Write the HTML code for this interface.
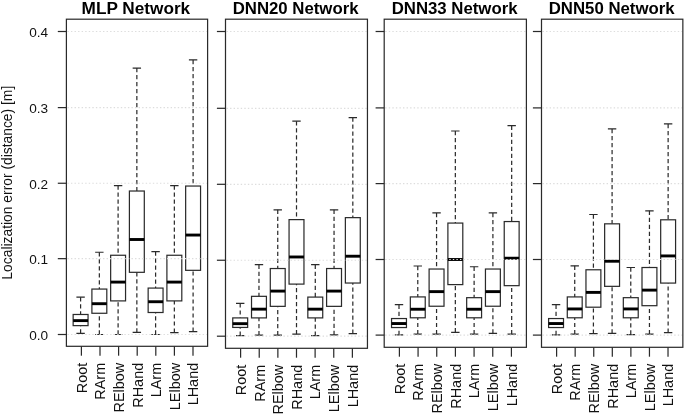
<!DOCTYPE html>
<html><head><meta charset="utf-8"><title>Localization error boxplots</title>
<style>html,body{margin:0;padding:0;background:#fff}body{width:685px;height:415px;overflow:hidden}</style></head>
<body>
<svg width="685" height="415" viewBox="0 0 685 415" style="display:block;font-family:'Liberation Sans',Arial,sans-serif">
<rect width="685" height="415" fill="#fff"/>
<path d="M80.60 297.18V314.48M80.60 333.36V325.63" stroke="#2a2a2a" stroke-width="1.22" stroke-dasharray="4.2 2.8" fill="none"/>
<path d="M76.40 297.18H84.80M76.40 333.36H84.80" stroke="#2a2a2a" stroke-width="1.22" fill="none"/>
<rect x="73.15" y="314.48" width="14.9" height="11.15" stroke="#2a2a2a" stroke-width="1.22" fill="#fff"/>
<path d="M73.15 320.62H88.05" stroke="#000" stroke-width="2.9" fill="none"/>
<path d="M81.40 346.3V355.70" stroke="#2a2a2a" stroke-width="1.22" fill="none"/>
<text transform="translate(86.70 362.80) rotate(-90)" text-anchor="end" font-size="14.45" fill="#111">Root</text>
<path d="M99.35 252.24V289.07M99.35 334.50V313.26" stroke="#2a2a2a" stroke-width="1.22" stroke-dasharray="4.2 2.8" fill="none"/>
<path d="M95.15 252.24H103.55M95.15 334.50H103.55" stroke="#2a2a2a" stroke-width="1.22" fill="none"/>
<rect x="91.90" y="289.07" width="14.9" height="24.20" stroke="#2a2a2a" stroke-width="1.22" fill="#fff"/>
<path d="M91.90 303.70H106.80" stroke="#000" stroke-width="2.9" fill="none"/>
<path d="M100.00 346.3V355.70" stroke="#2a2a2a" stroke-width="1.22" fill="none"/>
<text transform="translate(105.30 362.80) rotate(-90)" text-anchor="end" font-size="14.45" fill="#111">RArm</text>
<path d="M118.10 185.59V255.26M118.10 334.50V300.90" stroke="#2a2a2a" stroke-width="1.22" stroke-dasharray="4.2 2.8" fill="none"/>
<path d="M113.90 185.59H122.30M113.90 334.50H122.30" stroke="#2a2a2a" stroke-width="1.22" fill="none"/>
<rect x="110.65" y="255.26" width="14.9" height="45.64" stroke="#2a2a2a" stroke-width="1.22" fill="#fff"/>
<path d="M110.65 282.09H125.55" stroke="#000" stroke-width="2.9" fill="none"/>
<path d="M118.60 346.3V355.70" stroke="#2a2a2a" stroke-width="1.22" fill="none"/>
<text transform="translate(123.90 362.80) rotate(-90)" text-anchor="end" font-size="14.45" fill="#111">RElbow</text>
<path d="M136.85 68.03V191.02M136.85 332.38V272.30" stroke="#2a2a2a" stroke-width="1.22" stroke-dasharray="4.2 2.8" fill="none"/>
<path d="M132.65 68.03H141.05M132.65 332.38H141.05" stroke="#2a2a2a" stroke-width="1.22" fill="none"/>
<rect x="129.40" y="191.02" width="14.9" height="81.29" stroke="#2a2a2a" stroke-width="1.22" fill="#fff"/>
<path d="M129.40 239.50H144.30" stroke="#000" stroke-width="2.9" fill="none"/>
<path d="M137.20 346.3V355.70" stroke="#2a2a2a" stroke-width="1.22" fill="none"/>
<text transform="translate(142.50 362.80) rotate(-90)" text-anchor="end" font-size="14.45" fill="#111">RHand</text>
<path d="M155.60 251.56V288.08M155.60 334.50V312.50" stroke="#2a2a2a" stroke-width="1.22" stroke-dasharray="4.2 2.8" fill="none"/>
<path d="M151.40 251.56H159.80M151.40 334.50H159.80" stroke="#2a2a2a" stroke-width="1.22" fill="none"/>
<rect x="148.15" y="288.08" width="14.9" height="24.42" stroke="#2a2a2a" stroke-width="1.22" fill="#fff"/>
<path d="M148.15 301.73H163.05" stroke="#000" stroke-width="2.9" fill="none"/>
<path d="M155.80 346.3V355.70" stroke="#2a2a2a" stroke-width="1.22" fill="none"/>
<text transform="translate(161.10 362.80) rotate(-90)" text-anchor="end" font-size="14.45" fill="#111">LArm</text>
<path d="M174.35 185.59V255.26M174.35 332.60V300.90" stroke="#2a2a2a" stroke-width="1.22" stroke-dasharray="4.2 2.8" fill="none"/>
<path d="M170.15 185.59H178.55M170.15 332.60H178.55" stroke="#2a2a2a" stroke-width="1.22" fill="none"/>
<rect x="166.90" y="255.26" width="14.9" height="45.64" stroke="#2a2a2a" stroke-width="1.22" fill="#fff"/>
<path d="M166.90 282.09H181.80" stroke="#000" stroke-width="2.9" fill="none"/>
<path d="M174.40 346.3V355.70" stroke="#2a2a2a" stroke-width="1.22" fill="none"/>
<text transform="translate(179.70 362.80) rotate(-90)" text-anchor="end" font-size="14.45" fill="#111">LElbow</text>
<path d="M193.10 59.96V186.04M193.10 331.62V270.33" stroke="#2a2a2a" stroke-width="1.22" stroke-dasharray="4.2 2.8" fill="none"/>
<path d="M188.90 59.96H197.30M188.90 331.62H197.30" stroke="#2a2a2a" stroke-width="1.22" fill="none"/>
<rect x="185.65" y="186.04" width="14.9" height="84.29" stroke="#2a2a2a" stroke-width="1.22" fill="#fff"/>
<path d="M185.65 235.05H200.55" stroke="#000" stroke-width="2.9" fill="none"/>
<path d="M193.00 346.3V355.70" stroke="#2a2a2a" stroke-width="1.22" fill="none"/>
<text transform="translate(198.30 362.80) rotate(-90)" text-anchor="end" font-size="14.45" fill="#111">LHand</text>
<path d="M67.40 334.50H207.10" stroke="#dddddd" stroke-width="1.2" stroke-dasharray="1.4 2.16" fill="none"/>
<path d="M57.80 334.50H66.40" stroke="#2a2a2a" stroke-width="1.22" fill="none"/>
<text x="48.1" y="340.20" text-anchor="end" font-size="13.6" fill="#111">0.0</text>
<path d="M67.40 258.65H207.10" stroke="#dddddd" stroke-width="1.2" stroke-dasharray="1.4 2.16" fill="none"/>
<path d="M57.80 258.65H66.40" stroke="#2a2a2a" stroke-width="1.22" fill="none"/>
<text x="48.1" y="264.35" text-anchor="end" font-size="13.6" fill="#111">0.1</text>
<path d="M67.40 183.25H207.10" stroke="#dddddd" stroke-width="1.2" stroke-dasharray="1.4 2.16" fill="none"/>
<path d="M57.80 183.25H66.40" stroke="#2a2a2a" stroke-width="1.22" fill="none"/>
<text x="48.1" y="188.95" text-anchor="end" font-size="13.6" fill="#111">0.2</text>
<path d="M67.40 107.60H207.10" stroke="#dddddd" stroke-width="1.2" stroke-dasharray="1.4 2.16" fill="none"/>
<path d="M57.80 107.60H66.40" stroke="#2a2a2a" stroke-width="1.22" fill="none"/>
<text x="48.1" y="113.30" text-anchor="end" font-size="13.6" fill="#111">0.3</text>
<path d="M67.40 31.50H207.10" stroke="#dddddd" stroke-width="1.2" stroke-dasharray="1.4 2.16" fill="none"/>
<path d="M57.80 31.50H66.40" stroke="#2a2a2a" stroke-width="1.22" fill="none"/>
<text x="48.1" y="37.20" text-anchor="end" font-size="13.6" fill="#111">0.4</text>
<rect x="66.40" y="19.2" width="141.20" height="327.10" stroke="#2a2a2a" stroke-width="1.22" fill="none"/>
<text x="135.90" y="13.6" text-anchor="middle" font-size="17.2" font-weight="bold" fill="#000">MLP Network</text>
<path d="M240.20 303.39V317.90M240.20 335.67V327.43" stroke="#2a2a2a" stroke-width="1.22" stroke-dasharray="4.2 2.8" fill="none"/>
<path d="M236.00 303.39H244.40M236.00 335.67H244.40" stroke="#2a2a2a" stroke-width="1.22" fill="none"/>
<rect x="232.75" y="317.90" width="14.9" height="9.53" stroke="#2a2a2a" stroke-width="1.22" fill="#fff"/>
<path d="M232.75 323.67H247.65" stroke="#000" stroke-width="2.9" fill="none"/>
<path d="M240.60 348.3V357.70" stroke="#2a2a2a" stroke-width="1.22" fill="none"/>
<text transform="translate(245.90 364.80) rotate(-90)" text-anchor="end" font-size="14.45" fill="#111">Root</text>
<path d="M258.97 264.73V296.33M258.97 335.21V317.90" stroke="#2a2a2a" stroke-width="1.22" stroke-dasharray="4.2 2.8" fill="none"/>
<path d="M254.77 264.73H263.17M254.77 335.21H263.17" stroke="#2a2a2a" stroke-width="1.22" fill="none"/>
<rect x="251.52" y="296.33" width="14.9" height="21.57" stroke="#2a2a2a" stroke-width="1.22" fill="#fff"/>
<path d="M251.52 309.16H266.42" stroke="#000" stroke-width="2.9" fill="none"/>
<path d="M259.23 348.3V357.70" stroke="#2a2a2a" stroke-width="1.22" fill="none"/>
<text transform="translate(264.53 364.80) rotate(-90)" text-anchor="end" font-size="14.45" fill="#111">RArm</text>
<path d="M277.74 209.82V268.53M277.74 335.21V306.35" stroke="#2a2a2a" stroke-width="1.22" stroke-dasharray="4.2 2.8" fill="none"/>
<path d="M273.54 209.82H281.94M273.54 335.21H281.94" stroke="#2a2a2a" stroke-width="1.22" fill="none"/>
<rect x="270.29" y="268.53" width="14.9" height="37.82" stroke="#2a2a2a" stroke-width="1.22" fill="#fff"/>
<path d="M270.29 291.09H285.19" stroke="#000" stroke-width="2.9" fill="none"/>
<path d="M277.86 348.3V357.70" stroke="#2a2a2a" stroke-width="1.22" fill="none"/>
<text transform="translate(283.16 364.80) rotate(-90)" text-anchor="end" font-size="14.45" fill="#111">RElbow</text>
<path d="M296.51 121.22V219.62M296.51 334.23V284.10" stroke="#2a2a2a" stroke-width="1.22" stroke-dasharray="4.2 2.8" fill="none"/>
<path d="M292.31 121.22H300.71M292.31 334.23H300.71" stroke="#2a2a2a" stroke-width="1.22" fill="none"/>
<rect x="289.06" y="219.62" width="14.9" height="64.48" stroke="#2a2a2a" stroke-width="1.22" fill="#fff"/>
<path d="M289.06 256.98H303.96" stroke="#000" stroke-width="2.9" fill="none"/>
<path d="M296.49 348.3V357.70" stroke="#2a2a2a" stroke-width="1.22" fill="none"/>
<text transform="translate(301.79 364.80) rotate(-90)" text-anchor="end" font-size="14.45" fill="#111">RHand</text>
<path d="M315.28 264.73V297.09M315.28 335.67V317.90" stroke="#2a2a2a" stroke-width="1.22" stroke-dasharray="4.2 2.8" fill="none"/>
<path d="M311.08 264.73H319.48M311.08 335.67H319.48" stroke="#2a2a2a" stroke-width="1.22" fill="none"/>
<rect x="307.83" y="297.09" width="14.9" height="20.81" stroke="#2a2a2a" stroke-width="1.22" fill="#fff"/>
<path d="M307.83 309.16H322.73" stroke="#000" stroke-width="2.9" fill="none"/>
<path d="M315.12 348.3V357.70" stroke="#2a2a2a" stroke-width="1.22" fill="none"/>
<text transform="translate(320.42 364.80) rotate(-90)" text-anchor="end" font-size="14.45" fill="#111">LArm</text>
<path d="M334.05 209.82V268.53M334.05 334.91V306.35" stroke="#2a2a2a" stroke-width="1.22" stroke-dasharray="4.2 2.8" fill="none"/>
<path d="M329.85 209.82H338.25M329.85 334.91H338.25" stroke="#2a2a2a" stroke-width="1.22" fill="none"/>
<rect x="326.60" y="268.53" width="14.9" height="37.82" stroke="#2a2a2a" stroke-width="1.22" fill="#fff"/>
<path d="M326.60 291.09H341.50" stroke="#000" stroke-width="2.9" fill="none"/>
<path d="M333.75 348.3V357.70" stroke="#2a2a2a" stroke-width="1.22" fill="none"/>
<text transform="translate(339.05 364.80) rotate(-90)" text-anchor="end" font-size="14.45" fill="#111">LElbow</text>
<path d="M352.82 117.57V217.64M352.82 333.69V283.03" stroke="#2a2a2a" stroke-width="1.22" stroke-dasharray="4.2 2.8" fill="none"/>
<path d="M348.62 117.57H357.02M348.62 333.69H357.02" stroke="#2a2a2a" stroke-width="1.22" fill="none"/>
<rect x="345.37" y="217.64" width="14.9" height="65.39" stroke="#2a2a2a" stroke-width="1.22" fill="#fff"/>
<path d="M345.37 256.22H360.27" stroke="#000" stroke-width="2.9" fill="none"/>
<path d="M352.38 348.3V357.70" stroke="#2a2a2a" stroke-width="1.22" fill="none"/>
<text transform="translate(357.68 364.80) rotate(-90)" text-anchor="end" font-size="14.45" fill="#111">LHand</text>
<path d="M226.50 336.20H366.95" stroke="#dddddd" stroke-width="1.2" stroke-dasharray="1.4 2.16" fill="none"/>
<path d="M216.90 336.20H225.50" stroke="#2a2a2a" stroke-width="1.22" fill="none"/>
<path d="M226.50 260.25H366.95" stroke="#dddddd" stroke-width="1.2" stroke-dasharray="1.4 2.16" fill="none"/>
<path d="M216.90 260.25H225.50" stroke="#2a2a2a" stroke-width="1.22" fill="none"/>
<path d="M226.50 184.30H366.95" stroke="#dddddd" stroke-width="1.2" stroke-dasharray="1.4 2.16" fill="none"/>
<path d="M216.90 184.30H225.50" stroke="#2a2a2a" stroke-width="1.22" fill="none"/>
<path d="M226.50 108.30H366.95" stroke="#dddddd" stroke-width="1.2" stroke-dasharray="1.4 2.16" fill="none"/>
<path d="M216.90 108.30H225.50" stroke="#2a2a2a" stroke-width="1.22" fill="none"/>
<path d="M226.50 31.50H366.95" stroke="#dddddd" stroke-width="1.2" stroke-dasharray="1.4 2.16" fill="none"/>
<path d="M216.90 31.50H225.50" stroke="#2a2a2a" stroke-width="1.22" fill="none"/>
<rect x="225.50" y="19.2" width="141.95" height="329.10" stroke="#2a2a2a" stroke-width="1.22" fill="none"/>
<text x="295.60" y="13.6" text-anchor="middle" font-size="16.8" font-weight="bold" fill="#000">DNN20 Network</text>
<path d="M399.00 304.71V318.54M399.00 334.87V327.54" stroke="#2a2a2a" stroke-width="1.22" stroke-dasharray="4.2 2.8" fill="none"/>
<path d="M394.80 304.71H403.20M394.80 334.87H403.20" stroke="#2a2a2a" stroke-width="1.22" fill="none"/>
<rect x="391.55" y="318.54" width="14.9" height="9.00" stroke="#2a2a2a" stroke-width="1.22" fill="#fff"/>
<path d="M391.55 323.53H406.45" stroke="#000" stroke-width="2.9" fill="none"/>
<path d="M399.40 347.3V356.70" stroke="#2a2a2a" stroke-width="1.22" fill="none"/>
<text transform="translate(404.70 363.80) rotate(-90)" text-anchor="end" font-size="14.45" fill="#111">Root</text>
<path d="M417.78 266.00V296.92M417.78 334.12V317.79" stroke="#2a2a2a" stroke-width="1.22" stroke-dasharray="4.2 2.8" fill="none"/>
<path d="M413.58 266.00H421.98M413.58 334.12H421.98" stroke="#2a2a2a" stroke-width="1.22" fill="none"/>
<rect x="410.33" y="296.92" width="14.9" height="20.87" stroke="#2a2a2a" stroke-width="1.22" fill="#fff"/>
<path d="M410.33 309.24H425.23" stroke="#000" stroke-width="2.9" fill="none"/>
<path d="M418.07 347.3V356.70" stroke="#2a2a2a" stroke-width="1.22" fill="none"/>
<text transform="translate(423.37 363.80) rotate(-90)" text-anchor="end" font-size="14.45" fill="#111">RArm</text>
<path d="M436.56 212.97V269.03M436.56 334.12V306.22" stroke="#2a2a2a" stroke-width="1.22" stroke-dasharray="4.2 2.8" fill="none"/>
<path d="M432.36 212.97H440.76M432.36 334.12H440.76" stroke="#2a2a2a" stroke-width="1.22" fill="none"/>
<rect x="429.11" y="269.03" width="14.9" height="37.20" stroke="#2a2a2a" stroke-width="1.22" fill="#fff"/>
<path d="M429.11 291.63H444.01" stroke="#000" stroke-width="2.9" fill="none"/>
<path d="M436.74 347.3V356.70" stroke="#2a2a2a" stroke-width="1.22" fill="none"/>
<text transform="translate(442.04 363.80) rotate(-90)" text-anchor="end" font-size="14.45" fill="#111">RElbow</text>
<path d="M455.34 130.99V223.07M455.34 332.30V284.60" stroke="#2a2a2a" stroke-width="1.22" stroke-dasharray="4.2 2.8" fill="none"/>
<path d="M451.14 130.99H459.54M451.14 332.30H459.54" stroke="#2a2a2a" stroke-width="1.22" fill="none"/>
<rect x="447.89" y="223.07" width="14.9" height="61.53" stroke="#2a2a2a" stroke-width="1.22" fill="#fff"/>
<path d="M447.89 259.50H462.79" stroke="#000" stroke-width="2.9" fill="none"/>
<path d="M455.41 347.3V356.70" stroke="#2a2a2a" stroke-width="1.22" fill="none"/>
<text transform="translate(460.71 363.80) rotate(-90)" text-anchor="end" font-size="14.45" fill="#111">RHand</text>
<path d="M474.12 266.76V297.68M474.12 334.12V317.79" stroke="#2a2a2a" stroke-width="1.22" stroke-dasharray="4.2 2.8" fill="none"/>
<path d="M469.92 266.76H478.32M469.92 334.12H478.32" stroke="#2a2a2a" stroke-width="1.22" fill="none"/>
<rect x="466.67" y="297.68" width="14.9" height="20.11" stroke="#2a2a2a" stroke-width="1.22" fill="#fff"/>
<path d="M466.67 309.24H481.57" stroke="#000" stroke-width="2.9" fill="none"/>
<path d="M474.08 347.3V356.70" stroke="#2a2a2a" stroke-width="1.22" fill="none"/>
<text transform="translate(479.38 363.80) rotate(-90)" text-anchor="end" font-size="14.45" fill="#111">LArm</text>
<path d="M492.90 212.97V269.03M492.90 333.36V306.22" stroke="#2a2a2a" stroke-width="1.22" stroke-dasharray="4.2 2.8" fill="none"/>
<path d="M488.70 212.97H497.10M488.70 333.36H497.10" stroke="#2a2a2a" stroke-width="1.22" fill="none"/>
<rect x="485.45" y="269.03" width="14.9" height="37.20" stroke="#2a2a2a" stroke-width="1.22" fill="#fff"/>
<path d="M485.45 291.63H500.35" stroke="#000" stroke-width="2.9" fill="none"/>
<path d="M492.75 347.3V356.70" stroke="#2a2a2a" stroke-width="1.22" fill="none"/>
<text transform="translate(498.05 363.80) rotate(-90)" text-anchor="end" font-size="14.45" fill="#111">LElbow</text>
<path d="M511.68 125.69V221.55M511.68 334.12V285.66" stroke="#2a2a2a" stroke-width="1.22" stroke-dasharray="4.2 2.8" fill="none"/>
<path d="M507.48 125.69H515.88M507.48 334.12H515.88" stroke="#2a2a2a" stroke-width="1.22" fill="none"/>
<rect x="504.23" y="221.55" width="14.9" height="64.11" stroke="#2a2a2a" stroke-width="1.22" fill="#fff"/>
<path d="M504.23 258.21H519.13" stroke="#000" stroke-width="2.9" fill="none"/>
<path d="M511.42 347.3V356.70" stroke="#2a2a2a" stroke-width="1.22" fill="none"/>
<text transform="translate(516.72 363.80) rotate(-90)" text-anchor="end" font-size="14.45" fill="#111">LHand</text>
<path d="M385.20 335.10H525.90" stroke="#dddddd" stroke-width="1.2" stroke-dasharray="1.4 2.16" fill="none"/>
<path d="M375.60 335.10H384.20" stroke="#2a2a2a" stroke-width="1.22" fill="none"/>
<path d="M385.20 259.50H525.90" stroke="#dddddd" stroke-width="1.2" stroke-dasharray="1.4 2.16" fill="none"/>
<path d="M375.60 259.50H384.20" stroke="#2a2a2a" stroke-width="1.22" fill="none"/>
<path d="M385.20 183.60H525.90" stroke="#dddddd" stroke-width="1.2" stroke-dasharray="1.4 2.16" fill="none"/>
<path d="M375.60 183.60H384.20" stroke="#2a2a2a" stroke-width="1.22" fill="none"/>
<path d="M385.20 107.90H525.90" stroke="#dddddd" stroke-width="1.2" stroke-dasharray="1.4 2.16" fill="none"/>
<path d="M375.60 107.90H384.20" stroke="#2a2a2a" stroke-width="1.22" fill="none"/>
<path d="M385.20 31.50H525.90" stroke="#dddddd" stroke-width="1.2" stroke-dasharray="1.4 2.16" fill="none"/>
<path d="M375.60 31.50H384.20" stroke="#2a2a2a" stroke-width="1.22" fill="none"/>
<rect x="384.20" y="19.2" width="142.20" height="328.10" stroke="#2a2a2a" stroke-width="1.22" fill="none"/>
<text x="454.60" y="13.6" text-anchor="middle" font-size="16.8" font-weight="bold" fill="#000">DNN33 Network</text>
<path d="M556.05 304.71V318.54M556.05 334.87V327.54" stroke="#2a2a2a" stroke-width="1.22" stroke-dasharray="4.2 2.8" fill="none"/>
<path d="M551.85 304.71H560.25M551.85 334.87H560.25" stroke="#2a2a2a" stroke-width="1.22" fill="none"/>
<rect x="548.60" y="318.54" width="14.9" height="9.00" stroke="#2a2a2a" stroke-width="1.22" fill="#fff"/>
<path d="M548.60 323.53H563.50" stroke="#000" stroke-width="2.9" fill="none"/>
<path d="M556.60 347.3V356.70" stroke="#2a2a2a" stroke-width="1.22" fill="none"/>
<text transform="translate(561.90 363.80) rotate(-90)" text-anchor="end" font-size="14.45" fill="#111">Root</text>
<path d="M574.73 265.77V296.92M574.73 334.12V317.79" stroke="#2a2a2a" stroke-width="1.22" stroke-dasharray="4.2 2.8" fill="none"/>
<path d="M570.53 265.77H578.93M570.53 334.12H578.93" stroke="#2a2a2a" stroke-width="1.22" fill="none"/>
<rect x="567.28" y="296.92" width="14.9" height="20.87" stroke="#2a2a2a" stroke-width="1.22" fill="#fff"/>
<path d="M567.28 308.94H582.18" stroke="#000" stroke-width="2.9" fill="none"/>
<path d="M575.17 347.3V356.70" stroke="#2a2a2a" stroke-width="1.22" fill="none"/>
<text transform="translate(580.47 363.80) rotate(-90)" text-anchor="end" font-size="14.45" fill="#111">RArm</text>
<path d="M593.41 214.49V269.78M593.41 333.59V307.20" stroke="#2a2a2a" stroke-width="1.22" stroke-dasharray="4.2 2.8" fill="none"/>
<path d="M589.21 214.49H597.61M589.21 333.59H597.61" stroke="#2a2a2a" stroke-width="1.22" fill="none"/>
<rect x="585.96" y="269.78" width="14.9" height="37.42" stroke="#2a2a2a" stroke-width="1.22" fill="#fff"/>
<path d="M585.96 292.39H600.86" stroke="#000" stroke-width="2.9" fill="none"/>
<path d="M593.74 347.3V356.70" stroke="#2a2a2a" stroke-width="1.22" fill="none"/>
<text transform="translate(599.04 363.80) rotate(-90)" text-anchor="end" font-size="14.45" fill="#111">RElbow</text>
<path d="M612.09 128.94V223.83M612.09 333.36V286.34" stroke="#2a2a2a" stroke-width="1.22" stroke-dasharray="4.2 2.8" fill="none"/>
<path d="M607.89 128.94H616.29M607.89 333.36H616.29" stroke="#2a2a2a" stroke-width="1.22" fill="none"/>
<rect x="604.64" y="223.83" width="14.9" height="62.51" stroke="#2a2a2a" stroke-width="1.22" fill="#fff"/>
<path d="M604.64 261.24H619.54" stroke="#000" stroke-width="2.9" fill="none"/>
<path d="M612.31 347.3V356.70" stroke="#2a2a2a" stroke-width="1.22" fill="none"/>
<text transform="translate(617.61 363.80) rotate(-90)" text-anchor="end" font-size="14.45" fill="#111">RHand</text>
<path d="M630.77 267.51V297.68M630.77 334.57V317.79" stroke="#2a2a2a" stroke-width="1.22" stroke-dasharray="4.2 2.8" fill="none"/>
<path d="M626.57 267.51H634.97M626.57 334.57H634.97" stroke="#2a2a2a" stroke-width="1.22" fill="none"/>
<rect x="623.32" y="297.68" width="14.9" height="20.11" stroke="#2a2a2a" stroke-width="1.22" fill="#fff"/>
<path d="M623.32 308.94H638.22" stroke="#000" stroke-width="2.9" fill="none"/>
<path d="M630.88 347.3V356.70" stroke="#2a2a2a" stroke-width="1.22" fill="none"/>
<text transform="translate(636.18 363.80) rotate(-90)" text-anchor="end" font-size="14.45" fill="#111">LArm</text>
<path d="M649.45 210.77V267.51M649.45 334.12V305.69" stroke="#2a2a2a" stroke-width="1.22" stroke-dasharray="4.2 2.8" fill="none"/>
<path d="M645.25 210.77H653.65M645.25 334.12H653.65" stroke="#2a2a2a" stroke-width="1.22" fill="none"/>
<rect x="642.00" y="267.51" width="14.9" height="38.18" stroke="#2a2a2a" stroke-width="1.22" fill="#fff"/>
<path d="M642.00 290.12H656.90" stroke="#000" stroke-width="2.9" fill="none"/>
<path d="M649.45 347.3V356.70" stroke="#2a2a2a" stroke-width="1.22" fill="none"/>
<text transform="translate(654.75 363.80) rotate(-90)" text-anchor="end" font-size="14.45" fill="#111">LElbow</text>
<path d="M668.13 123.95V219.80M668.13 332.61V283.09" stroke="#2a2a2a" stroke-width="1.22" stroke-dasharray="4.2 2.8" fill="none"/>
<path d="M663.93 123.95H672.33M663.93 332.61H672.33" stroke="#2a2a2a" stroke-width="1.22" fill="none"/>
<rect x="660.68" y="219.80" width="14.9" height="63.28" stroke="#2a2a2a" stroke-width="1.22" fill="#fff"/>
<path d="M660.68 255.93H675.58" stroke="#000" stroke-width="2.9" fill="none"/>
<path d="M668.02 347.3V356.70" stroke="#2a2a2a" stroke-width="1.22" fill="none"/>
<text transform="translate(673.32 363.80) rotate(-90)" text-anchor="end" font-size="14.45" fill="#111">LHand</text>
<path d="M542.50 335.10H682.35" stroke="#dddddd" stroke-width="1.2" stroke-dasharray="1.4 2.16" fill="none"/>
<path d="M532.90 335.10H541.50" stroke="#2a2a2a" stroke-width="1.22" fill="none"/>
<path d="M542.50 259.50H682.35" stroke="#dddddd" stroke-width="1.2" stroke-dasharray="1.4 2.16" fill="none"/>
<path d="M532.90 259.50H541.50" stroke="#2a2a2a" stroke-width="1.22" fill="none"/>
<path d="M542.50 183.60H682.35" stroke="#dddddd" stroke-width="1.2" stroke-dasharray="1.4 2.16" fill="none"/>
<path d="M532.90 183.60H541.50" stroke="#2a2a2a" stroke-width="1.22" fill="none"/>
<path d="M542.50 107.90H682.35" stroke="#dddddd" stroke-width="1.2" stroke-dasharray="1.4 2.16" fill="none"/>
<path d="M532.90 107.90H541.50" stroke="#2a2a2a" stroke-width="1.22" fill="none"/>
<path d="M542.50 31.50H682.35" stroke="#dddddd" stroke-width="1.2" stroke-dasharray="1.4 2.16" fill="none"/>
<path d="M532.90 31.50H541.50" stroke="#2a2a2a" stroke-width="1.22" fill="none"/>
<rect x="541.50" y="19.2" width="141.35" height="328.10" stroke="#2a2a2a" stroke-width="1.22" fill="none"/>
<text x="611.70" y="13.6" text-anchor="middle" font-size="16.8" font-weight="bold" fill="#000">DNN50 Network</text>
<text transform="translate(11.9 182.7) rotate(-90)" text-anchor="middle" font-size="13.85" fill="#111">Localization error (distance) [m]</text>
</svg>
</body></html>
